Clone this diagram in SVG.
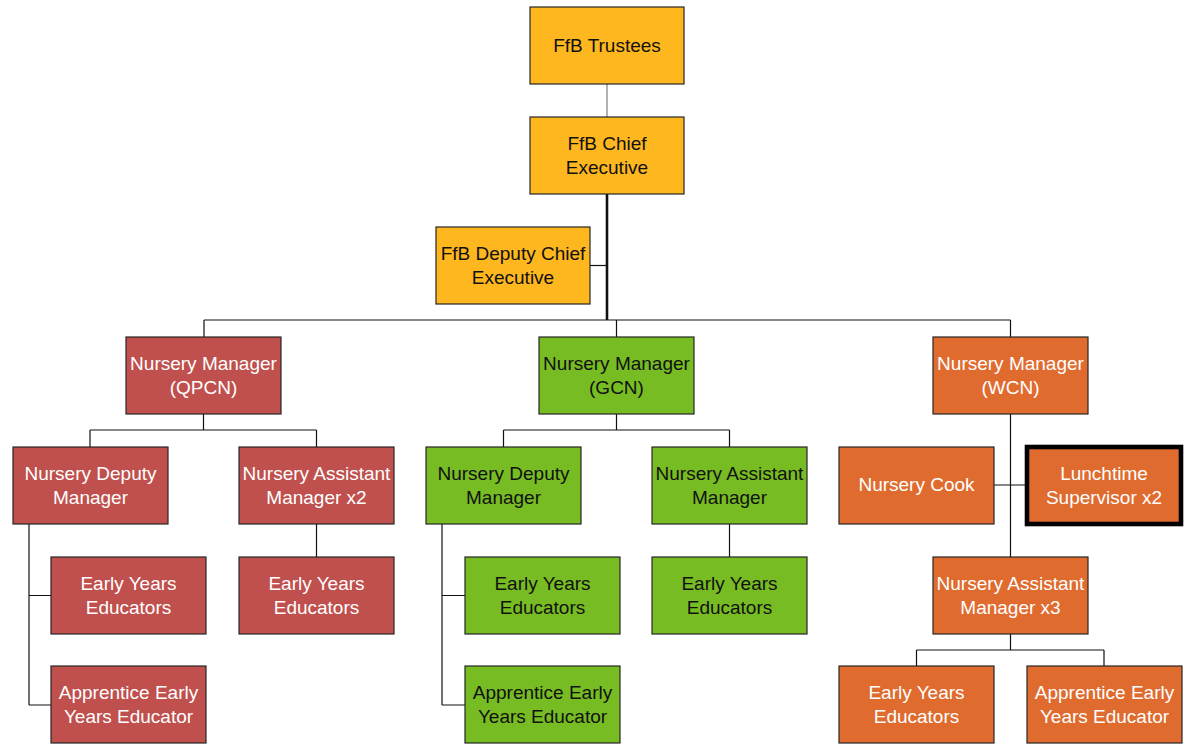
<svg xmlns="http://www.w3.org/2000/svg" width="1184" height="745" viewBox="0 0 1184 745">
<style>
.box{stroke:#262626;stroke-width:1.2}
.y{fill:#FEB71E}.r{fill:#C0504D}.g{fill:#77BC22}.o{fill:#E06B2F}
text{font-family:"Liberation Sans",Arial,sans-serif;font-size:19px;text-anchor:middle}
.dk{fill:#111}.wt{fill:#fff}
.c{fill:none;stroke:#111;stroke-width:1.2}
</style>
<rect width="1184" height="745" fill="#fff"/>
<g id="connectors">
<path class="c" d="M607,84V117" style="stroke:#7f7f7f"/>
<path class="c" d="M607,194V320" style="stroke-width:2.6"/>
<path class="c" d="M590,265.5H607"/>
<path class="c" d="M204,320H1010.5M204,320V337M616.5,320V337M1010.5,320V337"/>
<path class="c" d="M203.5,414V430M90,430H316.5M90,430V447M316.5,430V447"/>
<path class="c" d="M29,524V705M29,595.5H51M29,705H51"/>
<path class="c" d="M316.5,524V557"/>
<path class="c" d="M616.5,414V430M503.5,430H729.5M503.5,430V447M729.5,430V447"/>
<path class="c" d="M442,524V705M442,595.5H465M442,705H465"/>
<path class="c" d="M729.5,524V557"/>
<path class="c" d="M1010.5,414V557M994,485H1027"/>
<path class="c" d="M1010.5,634V650M916.5,650H1104M916.5,650V666M1104,650V666"/>
</g>
<g id="trustees"><rect class="box y" x="530" y="7" width="154" height="77"/><text class="dk" x="607" y="52">FfB Trustees</text></g>
<g id="chief"><rect class="box y" x="530" y="117" width="154" height="77"/><text class="dk" x="607" y="150">FfB Chief<tspan x="607" dy="23.5">Executive</tspan></text></g>
<g id="deputy-chief"><rect class="box y" x="436" y="227" width="154" height="77"/><text class="dk" x="513" y="260">FfB Deputy Chief<tspan x="513" dy="23.5">Executive</tspan></text></g>
<g id="nm-qpcn"><rect class="box r" x="126" y="337" width="155" height="77"/><text class="wt" x="203.5" y="370">Nursery Manager<tspan x="203.5" dy="23.5">(QPCN)</tspan></text></g>
<g id="nm-gcn"><rect class="box g" x="539" y="337" width="155" height="77"/><text class="dk" x="616.5" y="370">Nursery Manager<tspan x="616.5" dy="23.5">(GCN)</tspan></text></g>
<g id="nm-wcn"><rect class="box o" x="933" y="337" width="155" height="77"/><text class="wt" x="1010.5" y="370">Nursery Manager<tspan x="1010.5" dy="23.5">(WCN)</tspan></text></g>
<g id="q-deputy"><rect class="box r" x="13" y="447" width="155" height="77"/><text class="wt" x="90.5" y="480">Nursery Deputy<tspan x="90.5" dy="23.5">Manager</tspan></text></g>
<g id="q-assistant"><rect class="box r" x="239" y="447" width="155" height="77"/><text class="wt" x="316.5" y="480">Nursery Assistant<tspan x="316.5" dy="23.5">Manager x2</tspan></text></g>
<g id="q-ey"><rect class="box r" x="51" y="557" width="155" height="77"/><text class="wt" x="128.5" y="590">Early Years<tspan x="128.5" dy="23.5">Educators</tspan></text></g>
<g id="q-app"><rect class="box r" x="51" y="666" width="155" height="77"/><text class="wt" x="128.5" y="699">Apprentice Early<tspan x="128.5" dy="23.5">Years Educator</tspan></text></g>
<g id="q-ey2"><rect class="box r" x="239" y="557" width="155" height="77"/><text class="wt" x="316.5" y="590">Early Years<tspan x="316.5" dy="23.5">Educators</tspan></text></g>
<g id="g-deputy"><rect class="box g" x="426" y="447" width="155" height="77"/><text class="dk" x="503.5" y="480">Nursery Deputy<tspan x="503.5" dy="23.5">Manager</tspan></text></g>
<g id="g-assistant"><rect class="box g" x="652" y="447" width="155" height="77"/><text class="dk" x="729.5" y="480">Nursery Assistant<tspan x="729.5" dy="23.5">Manager</tspan></text></g>
<g id="g-ey"><rect class="box g" x="465" y="557" width="155" height="77"/><text class="dk" x="542.5" y="590">Early Years<tspan x="542.5" dy="23.5">Educators</tspan></text></g>
<g id="g-app"><rect class="box g" x="465" y="666" width="155" height="77"/><text class="dk" x="542.5" y="699">Apprentice Early<tspan x="542.5" dy="23.5">Years Educator</tspan></text></g>
<g id="g-ey2"><rect class="box g" x="652" y="557" width="155" height="77"/><text class="dk" x="729.5" y="590">Early Years<tspan x="729.5" dy="23.5">Educators</tspan></text></g>
<g id="w-cook"><rect class="box o" x="839" y="447" width="155" height="77"/><text class="wt" x="916.5" y="491">Nursery Cook</text></g>
<g id="w-lunch"><rect class="o" x="1027" y="447" width="154" height="77" stroke="#000" stroke-width="4.6"/><text class="wt" x="1104" y="480">Lunchtime<tspan x="1104" dy="23.5">Supervisor x2</tspan></text></g>
<g id="w-assistant"><rect class="box o" x="933" y="557" width="155" height="77"/><text class="wt" x="1010.5" y="590">Nursery Assistant<tspan x="1010.5" dy="23.5">Manager x3</tspan></text></g>
<g id="w-ey"><rect class="box o" x="839" y="666" width="155" height="77"/><text class="wt" x="916.5" y="699">Early Years<tspan x="916.5" dy="23.5">Educators</tspan></text></g>
<g id="w-app"><rect class="box o" x="1027" y="666" width="155" height="77"/><text class="wt" x="1104.5" y="699">Apprentice Early<tspan x="1104.5" dy="23.5">Years Educator</tspan></text></g>
</svg>
